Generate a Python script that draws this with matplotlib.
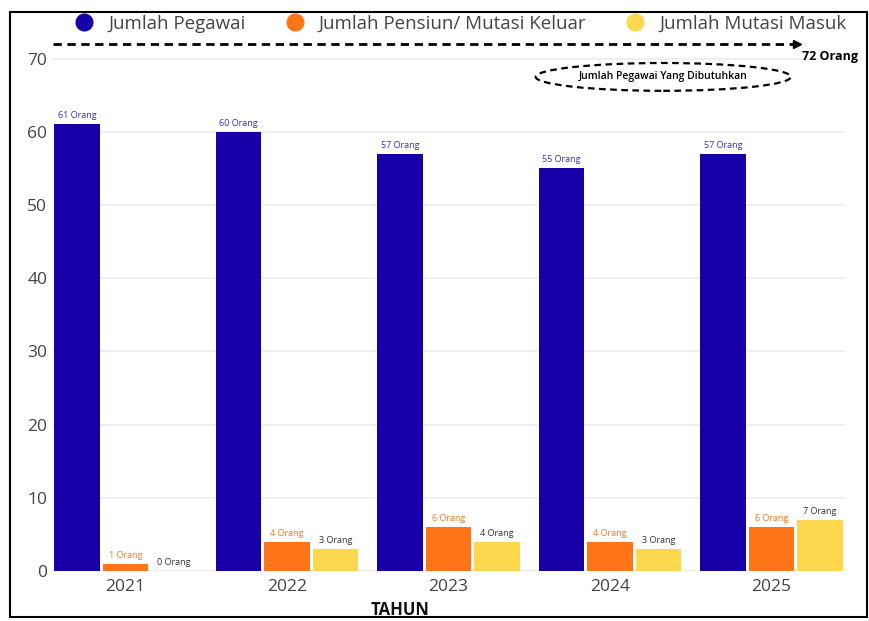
import numpy as np
import matplotlib
matplotlib.use("Agg")
import matplotlib.pyplot as plt
from matplotlib.patches import Ellipse, Rectangle
from matplotlib.lines import Line2D

# data
tahun = ["2021", "2022", "2023", "2024", "2025"]
pegawai = [61, 60, 57, 55, 57]
keluar = [1, 4, 6, 4, 6]
masuk = [0, 3, 4, 3, 7]
dibutuhkan = 72

series_names = ["Jumlah Pegawai", "Jumlah Pensiun/ Mutasi Keluar", "Jumlah Mutasi Masuk"]
colors = ["#1800A8", "#FF7518", "#FDD74E"]
label_colors = ["#3B2BC4", "#FF7518", "#333333"]

plt.rcParams["font.family"] = ["Open Sans", "DejaVu Sans"]

fig = plt.figure(figsize=(8.69, 6.21), dpi=100)
W, H = 869, 621
ax = fig.add_axes([52 / W, 50 / H, (845 - 52) / W, (571 - 22) / H])

x = np.arange(len(tahun))
width = 0.28
step = 0.30

for i, (vals, c, lc) in enumerate(zip([pegawai, keluar, masuk], colors, label_colors)):
    pos = x + (i - 1) * step
    ax.bar(pos, vals, width=width, color=c, zorder=3)
    for p, v in zip(pos, vals):
        ax.annotate(f"{v} Orang", (p, v), xytext=(0, 3), textcoords="offset points",
                    ha="center", va="bottom", fontsize=6.5, color=lc)

ax.set_xlim(-0.455, 4.455)
ax.set_ylim(0, 75)
ax.set_yticks(range(0, 71, 10))
ax.set_xticks(x)
ax.set_xticklabels(tahun)
ax.tick_params(axis="both", length=0, labelsize=12.5, colors="#444444")
ax.tick_params(axis="x", pad=6)
ax.grid(axis="y", color="#ececec", linewidth=1.2, zorder=0)
for s in ax.spines.values():
    s.set_visible(False)

# target line
ax.plot([-0.45, 4.15], [dibutuhkan, dibutuhkan], linestyle=(0, (3, 2)), color="black",
        linewidth=2, clip_on=False, zorder=4)
ax.plot([4.16], [dibutuhkan], marker=">", color="black", markersize=6, clip_on=False, zorder=4)
ax.text(4.19, 70.3, f"{dibutuhkan} Orang", fontsize=9, fontweight="bold", ha="left",
        va="center")
ell = Ellipse((3.33, 67.5), 1.58, 3.8, fill=False, linestyle=(0, (3, 2)), linewidth=1.6,
              edgecolor="black", zorder=4)
ax.add_patch(ell)
ax.text(3.33, 67.5, "Jumlah Pegawai Yang Dibutuhkan", fontsize=7.5, fontweight="semibold",
        ha="center", va="center", zorder=5)

# legend
handles = [Line2D([], [], marker="o", linestyle="", markersize=12, color=c) for c in colors]
fig.legend(handles, series_names, loc="center", bbox_to_anchor=(0.525, 1 - 24 / H), ncol=3,
           frameon=False, fontsize=13.5, handletextpad=0.3, columnspacing=1.6,
           labelcolor="#444444")

fig.text(400 / W, 1 - 610 / H, "TAHUN", fontsize=12, fontweight="bold", ha="center",
         va="center", color="#111111")

# outer border
fig.patches.append(Rectangle((10 / W, 4 / H), (867 - 10) / W, (609 - 4) / H,
                             transform=fig.transFigure, fill=False, edgecolor="black",
                             linewidth=1.5))

fig.savefig("out.png", dpi=100)
